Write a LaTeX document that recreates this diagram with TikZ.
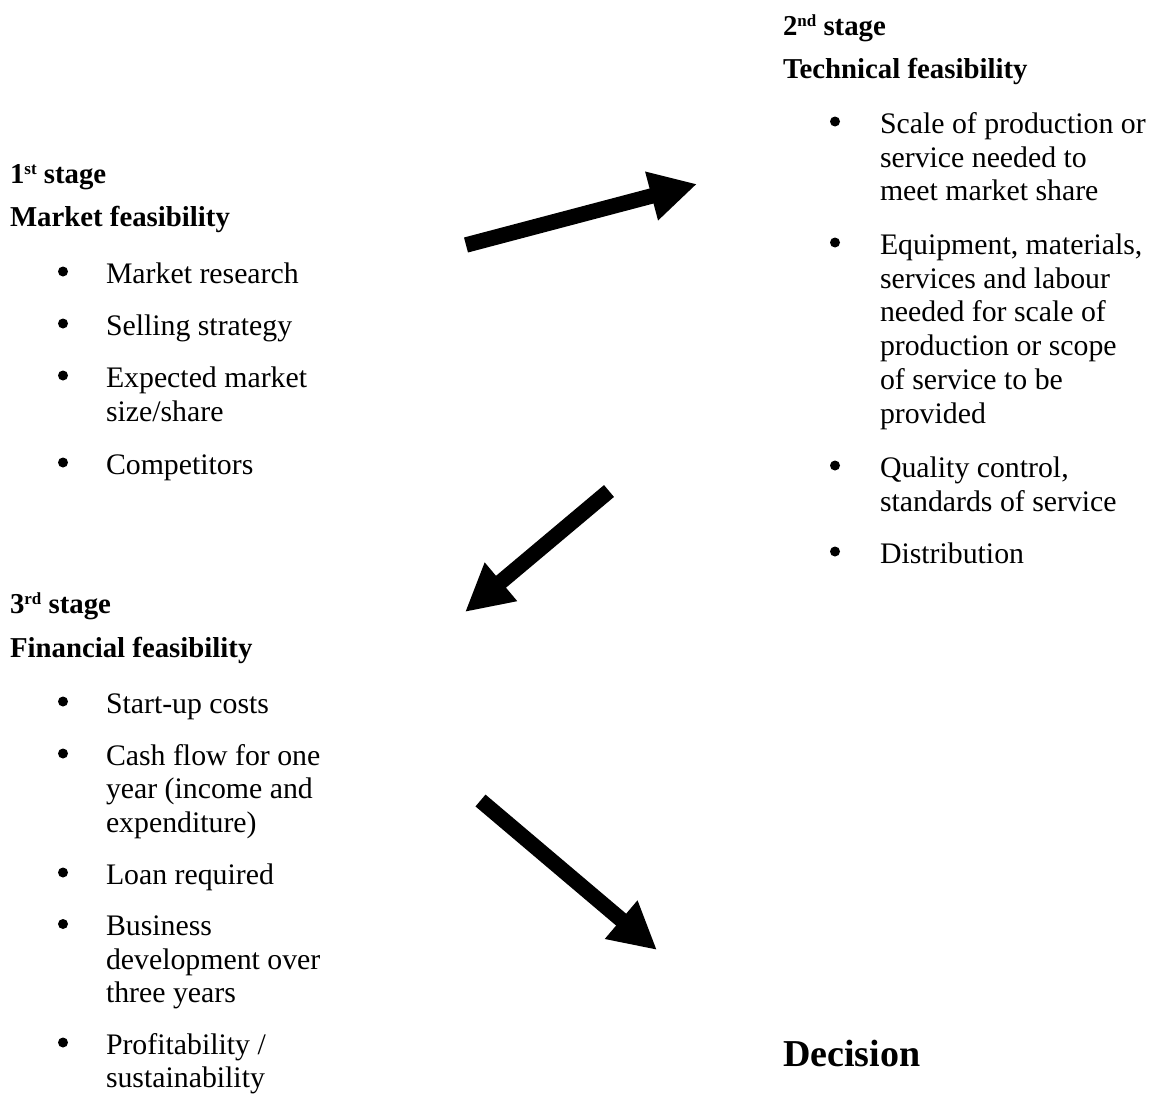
\documentclass[tikz,border=0pt]{standalone}
\usepackage{fontspec}
\setmainfont{Liberation Serif}
\usetikzlibrary{arrows.meta}
\tikzset{
  body/.style={anchor=base west, inner sep=0pt, outer sep=0pt, font=\fontsize{29.8}{34}\selectfont},
  head/.style={anchor=base west, inner sep=0pt, outer sep=0pt, font=\fontsize{28.8}{34}\selectfont\bfseries},
  bigarrow/.style={line width=15.5pt, -{Triangle[length=47pt,width=47pt]}},
  dot/.style={circle, fill=black, inner sep=0pt, minimum size=10pt},
}
\newcommand{\supx}[1]{\raisebox{8.5pt}{\fontsize{17}{17}\selectfont #1}}
\begin{document}
\begin{tikzpicture}[x=1pt,y=-1pt]
\useasboundingbox (0,0) rectangle (1149,1095);

% ---------- 1st stage ----------
\node[head] (s1) at (10,183) {1\supx{st} stage};
\node[head] (s1t) at (10,226) {Market feasibility};
\node[dot] (b11) at (63,271.5) {};
\node[body] (l11) at (106,283) {Market research};
\node[dot] (b12) at (63,323.5) {};
\node[body] (l12) at (106,335) {Selling strategy};
\node[dot] (b13) at (63,375.5) {};
\node[body] (l13a) at (106,387) {Expected market};
\node[body] (l13b) at (106,421) {size/share};
\node[dot] (b14) at (63,462.5) {};
\node[body] (l14) at (106,474) {Competitors};

% ---------- 2nd stage ----------
\node[head] (s2) at (783,35) {2\supx{nd} stage};
\node[head] (s2t) at (783,78) {Technical feasibility};
\node[dot] (b21) at (835,121.5) {};
\node[body] (l21a) at (880,133) {Scale of production or};
\node[body] (l21b) at (880,167) {service needed to};
\node[body] (l21c) at (880,200) {meet market share};
\node[dot] (b22) at (835,242.5) {};
\node[body] (l22a) at (880,254) {Equipment, materials,};
\node[body] (l22b) at (880,288) {services and labour};
\node[body] (l22c) at (880,321) {needed for scale of};
\node[body] (l22d) at (880,355) {production or scope};
\node[body] (l22e) at (880,389) {of service to be};
\node[body] (l22f) at (880,423) {provided};
\node[dot] (b23) at (835,465.5) {};
\node[body] (l23a) at (880,477) {Quality control,};
\node[body] (l23b) at (880,511) {standards of service};
\node[dot] (b24) at (835,551.5) {};
\node[body] (l24) at (880,563) {Distribution};

% ---------- 3rd stage ----------
\node[head] (s3) at (10,613) {3\supx{rd} stage};
\node[head] (s3t) at (10,657) {Financial feasibility};
\node[dot] (b31) at (63,701.5) {};
\node[body] (l31) at (106,713) {Start-up costs};
\node[dot] (b32) at (63,753.5) {};
\node[body] (l32a) at (106,765) {Cash flow for one};
\node[body] (l32b) at (106,798.5) {year (income and};
\node[body] (l32c) at (106,832) {expenditure)};
\node[dot] (b33) at (63,872.5) {};
\node[body] (l33) at (106,884) {Loan required};
\node[dot] (b34) at (63,924) {};
\node[body] (l34a) at (106,935.5) {Business};
\node[body] (l34b) at (106,969) {development over};
\node[body] (l34c) at (106,1002.5) {three years};
\node[dot] (b35) at (63,1042.5) {};
\node[body] (l35a) at (106,1054) {Profitability /};
\node[body] (l35b) at (106,1087.5) {sustainability};

% ---------- Decision ----------
\node[anchor=base west, inner sep=0pt, font=\fontsize{38}{40}\selectfont\bfseries] (dec) at (783,1066) {Decision};

% ---------- arrows ----------
\coordinate (a1s) at (466,245);
\coordinate (a1e) at (697,184);
\coordinate (a2s) at (609,491);
\coordinate (a2e) at (465,612);
\coordinate (a3s) at (480.5,800.5);
\coordinate (a3e) at (657,950);
\draw[bigarrow] (a1s) -- (a1e);
\draw[bigarrow] (a2s) -- (a2e);
\draw[bigarrow] (a3s) -- (a3e);
\end{tikzpicture}
\end{document}
